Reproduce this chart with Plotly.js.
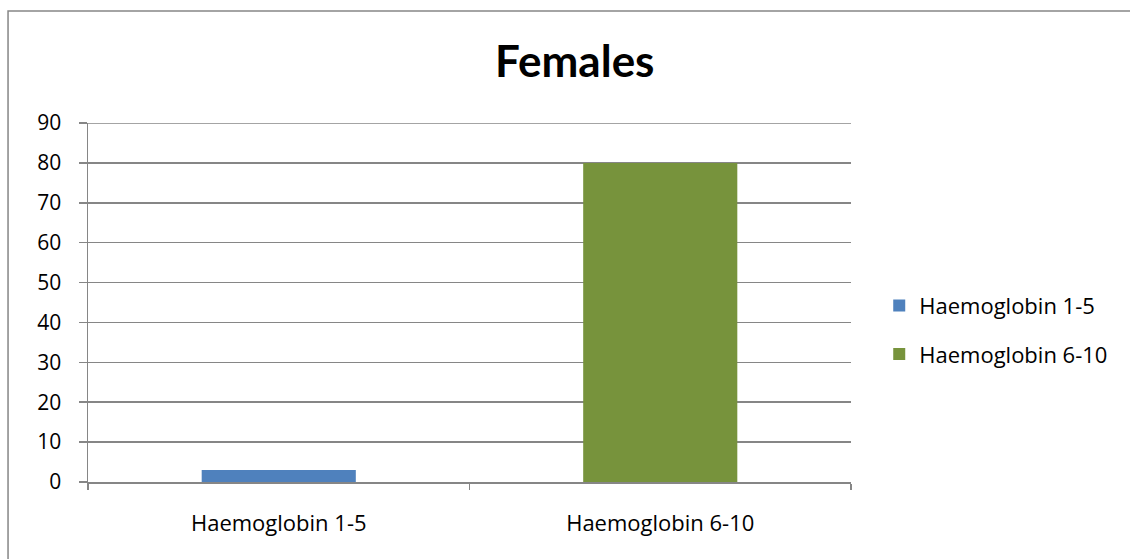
<!DOCTYPE html>
<html>
<head>
<meta charset="utf-8">
<script src="https://cdn.plot.ly/plotly-3.0.1.min.js"></script>
<style>
html,body{margin:0;padding:0;background:#fff;}
#chart{width:1130px;height:559px;}
</style>
</head>
<body>
<div id="chart"></div>
<script>
const categories = ["Haemoglobin 1-5", "Haemoglobin 6-10"];
const seriesNames = ["Haemoglobin 1-5", "Haemoglobin 6-10"];
const seriesValues = [3, 80];
const seriesColors = ["#4F81BD", "#77933C"];
const yTicks = [0, 10, 20, 30, 40, 50, 60, 70, 80, 90];

const FONT = "'Open Sans', Lato, sans-serif";
const TFONT = "Lato, 'Open Sans', sans-serif";

const traces = seriesNames.map((name, i) => ({
  type: "bar",
  name: name,
  x: [categories[i]],
  y: [seriesValues[i]],
  width: 0.404,
  marker: {color: seriesColors[i], line: {width: 0}},
  legendgroup: "g" + i,
  hoverinfo: "x+y"
}));

const yMax = yTicks[yTicks.length - 1];

const layout = {
  width: 1130,
  height: 559,
  margin: {l: 88, r: 279, t: 123, b: 77, pad: 0},
  paper_bgcolor: "#ffffff",
  plot_bgcolor: "#ffffff",
  barmode: "overlay",
  showlegend: true,
  title: {
    text: "<b>Females</b>",
    font: {family: TFONT, size: 44, color: "#000"},
    x: 0.638, xref: "paper", xanchor: "center",
    y: 0.89, yref: "container", yanchor: "middle"
  },
  xaxis: {
    type: "category",
    categoryorder: "array",
    categoryarray: categories,
    range: [-0.5, 1.5],
    showgrid: false,
    showline: true,
    linecolor: "#868686",
    linewidth: 1.5,
    ticks: "outside",
    tickson: "boundaries",
    ticklen: 6,
    tickwidth: 1.5,
    tickcolor: "#868686",
    tickfont: {family: FONT, size: 22, color: "#000"},
    ticklabelstandoff: 21,
    zeroline: false,
    fixedrange: true
  },
  yaxis: {
    range: [0, yMax],
    tickvals: yTicks,
    ticktext: yTicks.map(String),
    showgrid: true,
    gridcolor: "#868686",
    gridwidth: 1.5,
    showline: true,
    linecolor: "#868686",
    linewidth: 1.5,
    ticks: "outside",
    ticklen: 8,
    tickwidth: 1.5,
    tickcolor: "#868686",
    tickfont: {family: FONT, size: 21, color: "#000"},
    ticklabelstandoff: 13,
    zeroline: false,
    fixedrange: true
  },
  legend: {
    x: 1.037, xanchor: "left",
    y: 0.423, yanchor: "middle",
    font: {family: FONT, size: 22, color: "#000"},
    tracegroupgap: 17,
    bgcolor: "rgba(0,0,0,0)",
    itemclick: false,
    itemdoubleclick: false
  },
  shapes: [
    {
      type: "rect",
      xref: "paper", yref: "paper",
      x0: -0.1048, x1: 1.40, y0: -0.25, y1: 1.312,
      line: {color: "#868686", width: 1.5},
      fillcolor: "rgba(0,0,0,0)",
      layer: "below"
    },
    {
      type: "line",
      xref: "paper", yref: "y",
      x0: 0, x1: 1, y0: yMax, y1: yMax,
      line: {color: "#868686", width: 1.5},
      layer: "below"
    }
  ]
};

Plotly.newPlot("chart", traces, layout, {displayModeBar: false, staticPlot: true});
</script>
</body>
</html>
